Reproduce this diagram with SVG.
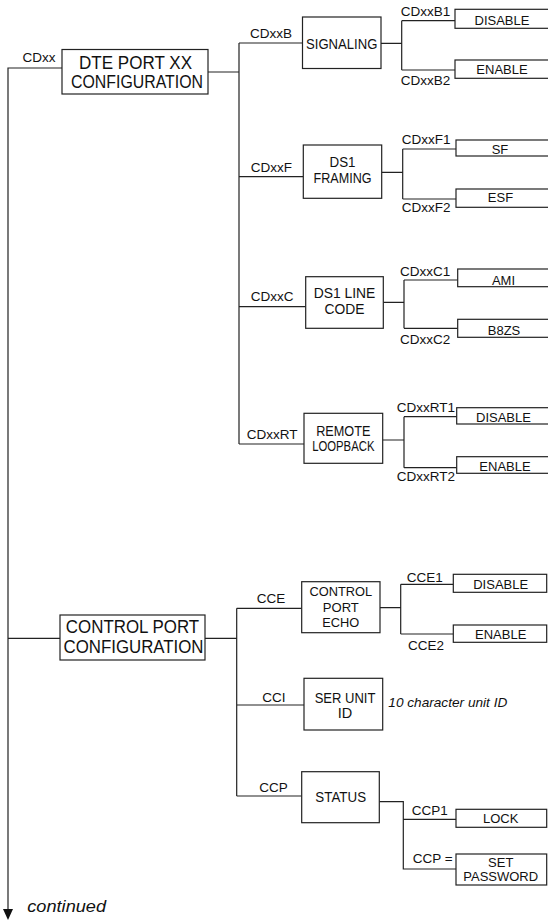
<svg xmlns="http://www.w3.org/2000/svg" width="548" height="923" viewBox="0 0 548 923">
<style>
.ln{fill:none;stroke:#222;stroke-width:1.2}
.bx{fill:#fff;stroke:#222;stroke-width:1.2}
text{font-family:"Liberation Sans",Arial,sans-serif;fill:#111}
.lb{font-size:13.5px}
.bt{font-size:14.5px;text-anchor:middle}
.bs{font-size:13.5px;text-anchor:middle}
.vt{font-size:13px;text-anchor:middle}
.big{font-size:18px;text-anchor:middle}
.it{font-style:italic}
</style>
<defs>
<marker id="arr" viewBox="0 0 11 10" refX="0" refY="5" markerWidth="11" markerHeight="10" markerUnits="userSpaceOnUse" orient="auto">
<path d="M0,0 L11,5 L0,10 Z" fill="#111"/>
</marker>
</defs>
<rect width="548" height="923" fill="#fff"/>
<g id="connectors">
<path class="ln" d="M62,68 L8,68 L8,909" marker-end="url(#arr)"/>
<path class="ln" d="M208,72 L239,72 M239,43 L239,444 M239,43 L302.5,43 M239,176.7 L303.3,176.7 M239,306.7 L305.7,306.7 M239,444 L304,444"/>
<path class="ln" d="M381,43.3 L401.7,43.3 M401.7,20.7 L401.7,70 M401.7,20.7 L455,20.7 M401.7,70 L455,70"/>
<path class="ln" d="M381.7,172.3 L402.7,172.3 M402.7,149 L402.7,199 M402.7,149 L456,149 M402.7,199 L456,199"/>
<path class="ln" d="M383.3,302.3 L404,302.3 M404,280 L404,328.3 M404,280 L457.7,280 M404,328.3 L457.7,328.3"/>
<path class="ln" d="M382.7,440 L404,440 M404,416.7 L404,467.7 M404,416.7 L456.7,416.7 M404,467.7 L456.7,467.7"/>
<path class="ln" d="M8,638.3 L60,638.3 M205,638.3 L236.7,638.3 M236.7,608.3 L236.7,796 M236.7,608.3 L301.7,608.3 M236.7,705 L304,705 M236.7,796 L301.7,796"/>
<path class="ln" d="M380,607.7 L400.7,607.7 M400.7,584.3 L400.7,634 M400.7,584.3 L453.3,584.3 M400.7,634 L453.3,634"/>
<path class="ln" d="M379.3,801.7 L403.3,801.7 L403.3,869 L456,869 M403.3,819.3 L456,819.3"/>
</g>
<g id="cdxx"><text class="lb" x="22.5" y="62">CDxx</text></g>
<g id="dte">
<rect class="bx" x="62" y="49.5" width="146" height="44.5"/>
<text class="big" x="135.5" y="69.3" textLength="113" lengthAdjust="spacingAndGlyphs">DTE PORT XX</text>
<text class="big" x="137" y="88.3" textLength="132" lengthAdjust="spacingAndGlyphs">CONFIGURATION</text>
</g>
<g id="signaling">
<text class="lb" x="250" y="38.3">CDxxB</text>
<rect class="bx" x="302.5" y="17" width="78.5" height="51.5"/>
<text class="bt" x="341.7" y="48.5" textLength="71.3" lengthAdjust="spacingAndGlyphs">SIGNALING</text>
</g>
<g id="sig-disable">
<text class="lb" x="400.7" y="15.7">CDxxB1</text>
<rect class="bx" x="455" y="9.3" width="100" height="19"/>
<text class="vt" x="502" y="25">DISABLE</text>
</g>
<g id="sig-enable">
<text class="lb" x="400.7" y="85">CDxxB2</text>
<rect class="bx" x="455" y="60" width="100" height="18.3"/>
<text class="vt" x="502" y="74">ENABLE</text>
</g>
<g id="framing">
<text class="lb" x="250.7" y="172">CDxxF</text>
<rect class="bx" x="303.3" y="145" width="78.4" height="53.3"/>
<text class="bt" x="342.5" y="166.7" textLength="26" lengthAdjust="spacingAndGlyphs">DS1</text>
<text class="bt" x="342.5" y="183.3" textLength="58" lengthAdjust="spacingAndGlyphs">FRAMING</text>
</g>
<g id="sf">
<text class="lb" x="401.7" y="144.3">CDxxF1</text>
<rect class="bx" x="456" y="140" width="100" height="16"/>
<text class="vt" x="500" y="153.5">SF</text>
</g>
<g id="esf">
<text class="lb" x="401.7" y="212.3">CDxxF2</text>
<rect class="bx" x="456" y="189" width="100" height="18.3"/>
<text class="vt" x="500.5" y="202.3">ESF</text>
</g>
<g id="linecode">
<text class="lb" x="250.7" y="301">CDxxC</text>
<rect class="bx" x="305.7" y="276.7" width="77.6" height="51.6"/>
<text class="bt" x="344.5" y="297.7" textLength="61.7" lengthAdjust="spacingAndGlyphs">DS1 LINE</text>
<text class="bt" x="344.5" y="314.3" textLength="40" lengthAdjust="spacingAndGlyphs">CODE</text>
</g>
<g id="ami">
<text class="lb" x="400" y="275.7">CDxxC1</text>
<rect class="bx" x="457.7" y="269" width="100" height="17.7"/>
<text class="vt" x="503.5" y="284.5">AMI</text>
</g>
<g id="b8zs">
<text class="lb" x="400" y="344">CDxxC2</text>
<rect class="bx" x="457.7" y="319.3" width="100" height="18"/>
<text class="vt" x="504" y="334.5">B8ZS</text>
</g>
<g id="loopback">
<text class="lb" x="246.7" y="439">CDxxRT</text>
<rect class="bx" x="304" y="413.3" width="78.7" height="50"/>
<text class="bt" x="343.3" y="435.7" textLength="54.3" lengthAdjust="spacingAndGlyphs">REMOTE</text>
<text class="bt" x="343.3" y="450.5" textLength="62.3" lengthAdjust="spacingAndGlyphs">LOOPBACK</text>
</g>
<g id="rt-disable">
<text class="lb" x="396.7" y="412.3">CDxxRT1</text>
<rect class="bx" x="456.7" y="407.7" width="100" height="16.3"/>
<text class="vt" x="503.5" y="421.8">DISABLE</text>
</g>
<g id="rt-enable">
<text class="lb" x="396.7" y="481">CDxxRT2</text>
<rect class="bx" x="456.7" y="456.7" width="100" height="16.6"/>
<text class="vt" x="505" y="470.5">ENABLE</text>
</g>
<g id="control">
<rect class="bx" x="60" y="615" width="145" height="45"/>
<text class="big" x="132.5" y="633.3" textLength="133.3" lengthAdjust="spacingAndGlyphs">CONTROL PORT</text>
<text class="big" x="133.5" y="653.3" textLength="140" lengthAdjust="spacingAndGlyphs">CONFIGURATION</text>
</g>
<g id="echo">
<text class="lb" x="256.7" y="603.3">CCE</text>
<rect class="bx" x="301.7" y="581.7" width="78.3" height="51"/>
<text class="bs" x="340.8" y="596" textLength="62.7" lengthAdjust="spacingAndGlyphs">CONTROL</text>
<text class="bs" x="340.8" y="611.5" textLength="36" lengthAdjust="spacingAndGlyphs">PORT</text>
<text class="bs" x="340.8" y="626.5" textLength="37" lengthAdjust="spacingAndGlyphs">ECHO</text>
</g>
<g id="cce-disable">
<text class="lb" x="406.7" y="581.7">CCE1</text>
<rect class="bx" x="453.3" y="574.3" width="93.4" height="18"/>
<text class="vt" x="500.7" y="589">DISABLE</text>
</g>
<g id="cce-enable">
<text class="lb" x="408" y="650">CCE2</text>
<rect class="bx" x="453.3" y="625" width="93.4" height="17.3"/>
<text class="vt" x="500.7" y="639">ENABLE</text>
</g>
<g id="serunit">
<text class="lb" x="262.3" y="701.7">CCI</text>
<rect class="bx" x="304" y="678.3" width="78.7" height="51.7"/>
<text class="bt" x="345" y="703.3" textLength="60.7" lengthAdjust="spacingAndGlyphs">SER UNIT</text>
<text class="bt" x="345" y="718.3">ID</text>
<text class="lb it" x="388.3" y="706.7" textLength="119" lengthAdjust="spacingAndGlyphs">10 character unit ID</text>
</g>
<g id="status">
<text class="lb" x="259.3" y="791.7">CCP</text>
<rect class="bx" x="301.7" y="771.7" width="77.6" height="51"/>
<text class="bt" x="340.7" y="801.7" textLength="50.7" lengthAdjust="spacingAndGlyphs">STATUS</text>
</g>
<g id="lock">
<text class="lb" x="411.7" y="815">CCP1</text>
<rect class="bx" x="456" y="809.3" width="90.7" height="18"/>
<text class="vt" x="500.7" y="822.7">LOCK</text>
</g>
<g id="password">
<text class="lb" x="412.7" y="862.7">CCP =</text>
<rect class="bx" x="456" y="854" width="90.7" height="31"/>
<text class="vt" x="500.7" y="867.3">SET</text>
<text class="vt" x="500.7" y="880.7">PASSWORD</text>
</g>
<g id="continued"><text class="it" x="27.3" y="911.7" font-size="16" textLength="78.7" lengthAdjust="spacingAndGlyphs">continued</text></g>
</svg>
